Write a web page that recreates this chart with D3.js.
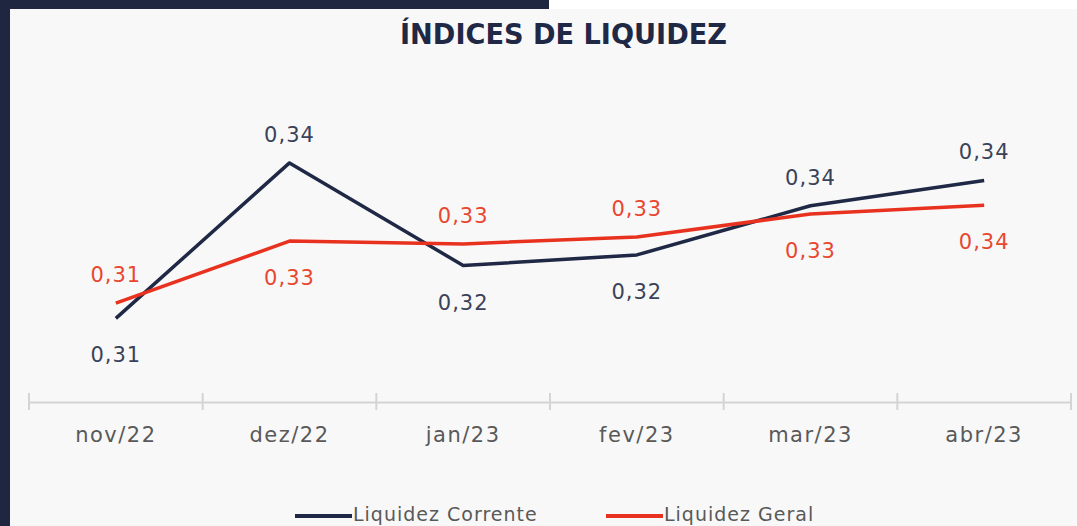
<!DOCTYPE html>
<html>
<head>
<meta charset="utf-8">
<script src="https://cdn.jsdelivr.net/npm/d3@7"></script>
<style>
  body { margin: 0; background: #1f2640; }
  svg { display: block; }
  text { font-family: "DejaVu Sans", sans-serif; }
</style>
</head>
<body>
<div id="chart"></div>
<script>
const months = ["nov/22", "dez/22", "jan/23", "fev/23", "mar/23", "abr/23"];
const corrente = [0.311, 0.3448, 0.3225, 0.3248, 0.3355, 0.341];
const geral = [0.3143, 0.3278, 0.3272, 0.3287, 0.3337, 0.3356];
const seriesNames = ["Liquidez Corrente", "Liquidez Geral"];

const W = 1077, H = 526;
const navy = "#1f2845", red = "#e8321f";

const svg = d3.select("#chart")
    .append("svg")
    .attr("width", W)
    .attr("height", H);

// frame: navy border, white strip top right, light panel
svg.append("rect").attr("x", 549).attr("y", 0).attr("width", W - 549).attr("height", 9).attr("fill", "#ffffff");
svg.append("rect").attr("x", 10).attr("y", 9).attr("width", W - 10).attr("height", H - 9).attr("fill", "#f8f8f8");

svg.append("text")
    .attr("x", 400)
    .attr("y", 44)
    .attr("textLength", 327)
    .attr("lengthAdjust", "spacingAndGlyphs")
    .style("font-size", "29px")
    .style("font-weight", "bold")
    .attr("fill", "#1f2845")
    .text("ÍNDICES DE LIQUIDEZ");

const x = d3.scaleBand()
    .domain(months)
    .range([29, 1071])
    .padding(0);

const y = d3.scaleLinear()
    .domain([0.30, 0.35])
    .range([369, 139]);

const cx = d => x(d) + x.bandwidth() / 2;
const axisY = 402;

// axis
const axis = svg.append("g")
    .attr("transform", `translate(0,${axisY})`)
    .call(d3.axisBottom(x).tickSize(0).tickPadding(25));
axis.select(".domain").attr("stroke", "#d4d4d4").attr("stroke-width", 2);
axis.selectAll(".tick text")
    .attr("fill", "#595959")
    .style("font-size", "21px")
    .style("letter-spacing", "1.5px");

const bounds = months.map(d => x(d)).concat([x.range()[1]]);
svg.selectAll(".bound")
    .data(bounds)
    .enter().append("line")
    .attr("x1", d => d).attr("x2", d => d)
    .attr("y1", axisY - 9).attr("y2", axisY + 8)
    .attr("stroke", "#d4d4d4")
    .attr("stroke-width", 2);

const line = d3.line()
    .x((d, i) => cx(months[i]))
    .y(d => y(d));

const fmt = v => d3.format(".2f")(v).replace(".", ",");

const series = [
    { values: corrente, color: navy, label: "#3a4259", other: geral },
    { values: geral, color: red, label: "#e8472f", other: corrente }
];

series.forEach(s => {
    svg.append("path")
        .datum(s.values)
        .attr("d", line)
        .attr("fill", "none")
        .attr("stroke", s.color)
        .attr("stroke-width", 3.5)
        .attr("stroke-linejoin", "round");
});

// data labels: the higher series gets its label above, the lower one below
series.forEach(s => {
    svg.selectAll(null)
        .data(s.values)
        .enter().append("text")
        .attr("x", (d, i) => cx(months[i]))
        .attr("y", (d, i) => d >= s.other[i] ? y(d) - 21 : y(d) + 44)
        .attr("text-anchor", "middle")
        .attr("fill", s.label)
        .style("font-size", "21px")
        .style("letter-spacing", "1px")
        .text(d => fmt(d));
});

// legend
const legendX = [295, 606];
series.forEach((s, i) => {
    const g = svg.append("g").attr("transform", `translate(${legendX[i]},516)`);
    g.append("line")
        .attr("x1", 0).attr("x2", 57)
        .attr("stroke", s.color)
        .attr("stroke-width", 4);
    g.append("text")
        .attr("x", 58)
        .attr("y", 5)
        .attr("fill", "#595959")
        .style("font-size", "19px")
        .style("letter-spacing", "1px")
        .text(seriesNames[i]);
});
</script>
</body>
</html>
